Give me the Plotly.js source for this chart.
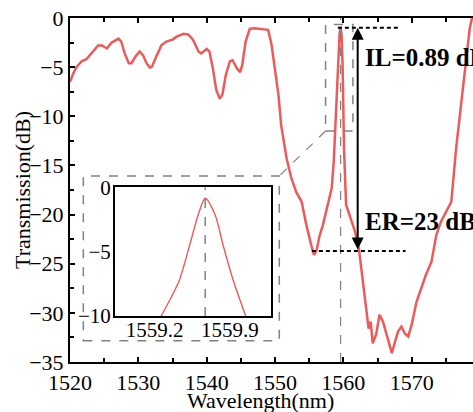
<!DOCTYPE html>
<html>
<head>
<meta charset="utf-8">
<script src="https://cdn.plot.ly/plotly-3.0.1.min.js"></script>
<style>html,body{margin:0;padding:0;overflow:hidden;background:#fff;}#chart{width:490px;height:412px;}</style>
</head>
<body>
<div id="chart"></div>
<script>
// Main spectrum
const wavelength = [1520.0,1520.5,1521.0,1521.7,1522.4,1523.2,1524.1,1524.7,1525.4,1526.1,1527.1,1527.5,1528.0,1528.6,1529.0,1529.6,1530.2,1530.7,1531.2,1531.7,1532.0,1532.7,1533.4,1534.1,1535.0,1535.6,1536.6,1537.3,1538.0,1538.8,1539.2,1540.0,1540.4,1540.9,1541.4,1541.9,1542.3,1542.8,1543.4,1543.8,1544.4,1544.9,1545.2,1545.7,1546.3,1547.0,1548.3,1549.0,1549.5,1550.1,1550.5,1550.9,1551.7,1552.4,1553.1,1553.9,1554.6,1555.3,1555.7,1556.1,1556.5,1557.0,1557.8,1558.3,1558.6,1559.0,1559.2,1559.45,1559.6,1559.75,1559.9,1560.1,1560.4,1560.9,1561.7,1562.3,1562.9,1563.4,1563.7,1564.0,1564.3,1564.8,1565.3,1565.8,1566.3,1566.8,1567.1,1567.5,1568.0,1568.5,1569.0,1569.5,1570.0,1570.7,1571.4,1572.1,1572.9,1573.6,1574.3,1575.1,1575.8,1576.5,1577.3,1578.0,1578.5,1579.0];
const transmission = [-6.5,-5.6,-4.95,-4.4,-4.2,-3.5,-2.8,-2.8,-3.1,-2.5,-2.1,-2.4,-3.6,-4.6,-4.6,-3.9,-3.4,-3.8,-4.6,-5.05,-4.95,-3.8,-2.75,-2.4,-2.2,-1.9,-1.6,-1.66,-2.2,-3.4,-3.6,-3.15,-3.4,-5.1,-7.3,-8.2,-7.8,-5.8,-4.4,-4.3,-5.1,-5.5,-4.8,-2.4,-1.1,-1.05,-1.1,-1.2,-2.75,-5.5,-7.8,-10.9,-14.3,-16.3,-17.7,-18.7,-21.1,-23.1,-24.1,-23.6,-22.2,-21.1,-18.7,-17.3,-14.6,-8.2,-4.6,-1.6,-0.89,-1.8,-5.0,-13.3,-19.0,-20.0,-21.7,-23.6,-26.8,-29.5,-31.6,-30.9,-33.1,-32.2,-30.2,-30.9,-32.2,-33.6,-34.1,-33.1,-31.9,-31.4,-32.1,-32.4,-31.2,-28.9,-27.5,-26.1,-24.8,-22.1,-20.7,-19.7,-18.7,-13.3,-8.2,-3.8,-1.05,0.5];
// Inset (zoom on the peak)
const insetWavelength = [1559.24,1559.35,1559.43,1559.53,1559.61,1559.67,1559.76,1559.84,1559.93,1560.06];
const insetTransmission = [-10.3,-8.6,-7.2,-4.35,-2.0,-0.85,-2.1,-4.6,-7.2,-10.3];
// Tick labels
const xTicks = [1520,1530,1540,1550,1560,1570];
const yTicks = [0,-5,-10,-15,-20,-25,-30,-35];
const insetXTicks = [1559.2,1559.9];
const insetYTicks = [0,-5,-10];
const peakWl = 1559.6;
const IL = 0.89, ER = 23;

const red = 'rgb(238,90,90)';
const serif = 'Liberation Serif, Times New Roman, serif';

const traces = [
  {x: wavelength, y: transmission, type: 'scatter', mode: 'lines', line: {color: red, width: 2.5}, xaxis: 'x', yaxis: 'y', hoverinfo: 'skip'},
  {x: insetWavelength, y: insetTransmission, type: 'scatter', mode: 'lines', line: {color: red, width: 1.4, shape: 'spline', smoothing: 0.8}, xaxis: 'x2', yaxis: 'y2', hoverinfo: 'skip'}
];

const gray = 'rgb(130,130,130)';
const tf = {family: serif, size: 22, color: '#000'};
const layout = {
  width: 490, height: 412,
  margin: {l: 70, r: 10, t: 18, b: 50},
  paper_bgcolor: '#fff', plot_bgcolor: '#fff',
  showlegend: false,
  font: {family: serif, size: 22, color: '#000'},
  xaxis: {
    range: [1520, 1580], tickvals: xTicks, ticks: 'inside', ticklen: 5, tickwidth: 2, tickcolor: '#000',
    showline: true, linewidth: 2, linecolor: '#000', mirror: 'ticks', showgrid: false, zeroline: false,
    minor: {dtick: 5, tick0: 1520, ticks: 'inside', ticklen: 4, tickwidth: 2, tickcolor: '#000'},
    tickfont: tf
  },
  yaxis: {
    range: [-35, 0], tickvals: yTicks, ticks: 'inside', ticklen: 5, tickwidth: 2, tickcolor: '#000',
    showline: true, linewidth: 2, linecolor: '#000', mirror: 'ticks', showgrid: false, zeroline: false,
    minor: {dtick: 2.5, tick0: 0, ticks: 'inside', ticklen: 4, tickwidth: 2, tickcolor: '#000'},
    tickfont: tf
  },
  xaxis2: {
    domain: [0.1098, 0.4895], anchor: 'y2', range: [1558.83, 1560.28], tickvals: insetXTicks, ticktext: ['1559.2','1559.9'],
    ticks: '', showline: true, linewidth: 2, linecolor: '#000', mirror: true, showgrid: false, zeroline: false,
    tickfont: {family: serif, size: 21, color: '#000'}, ticklabelstandoff: -6
  },
  yaxis2: {
    domain: [0.1337, 0.5078], anchor: 'x2', range: [-10, 0], tickvals: insetYTicks,
    ticks: '', showline: true, linewidth: 2, linecolor: '#000', mirror: true, showgrid: false, zeroline: false,
    tickfont: {family: serif, size: 21, color: '#000'}, ticklabelstandoff: -2
  },
  shapes: [
    {type: 'line', xref: 'x', yref: 'y', x0: peakWl, x1: peakWl, y0: -35, y1: 0, line: {color: gray, width: 1.2, dash: 'dash'}},
    {type: 'rect', xref: 'x', yref: 'y', x0: 1557.4, x1: 1561.4, y0: -11.5, y1: -0.65, line: {color: gray, width: 1.5, dash: 'dash'}},
    {type: 'line', xref: 'x', yref: 'y', x0: 1557.4, y0: -11.5, x1: 1550.63, y1: -16.07, line: {color: gray, width: 1.2, dash: 'dash'}},
    {type: 'rect', xref: 'x', yref: 'y', x0: 1521.95, x1: 1550.63, y0: -32.83, y1: -16.07, line: {color: gray, width: 1.5, dash: 'dash'}},
    {type: 'line', xref: 'x2', yref: 'y2', x0: 1559.67, x1: 1559.67, y0: -10, y1: 0, line: {color: gray, width: 1.5, dash: 'dash'}},
    {type: 'line', xref: 'x', yref: 'y', x0: 1559.2, x1: 1568.4, y0: -1.0, y1: -1.0, line: {color: '#000', width: 2, dash: '4px,3px'}},
    {type: 'line', xref: 'x', yref: 'y', x0: 1555.4, x1: 1569.1, y0: -23.7, y1: -23.7, line: {color: '#000', width: 2, dash: '4px,3px'}}
  ],
  annotations: [
    {xref: 'x', yref: 'y', x: 1562.1, y: -1.0, ax: 1562.1, ay: -23.7, axref: 'x', ayref: 'y', text: '', showarrow: true,
     arrowhead: 2, arrowside: 'end+start', arrowsize: 1.2, arrowwidth: 2, arrowcolor: '#000'},
    {xref: 'x', yref: 'y', x: 1562.9, y: -3.97, xanchor: 'left', yanchor: 'middle', showarrow: false,
     text: '<b>IL=' + IL.toFixed(2) + ' dB</b>', font: {family: serif, size: 25, color: '#000'}},
    {xref: 'x', yref: 'y', x: 1562.9, y: -20.75, xanchor: 'left', yanchor: 'middle', showarrow: false,
     text: '<b>ER=' + ER + ' dB</b>', font: {family: serif, size: 25, color: '#000'}},
    {xref: 'paper', yref: 'paper', x: (260 - 70) / 410, y: (362 - 400) / 344, xanchor: 'center', yanchor: 'middle', showarrow: false,
     text: 'Wavelength(nm)', font: {family: serif, size: 22, color: '#000'}},
    {xref: 'paper', yref: 'paper', x: (22 - 70) / 410, y: 0.5, xanchor: 'center', yanchor: 'middle', showarrow: false, textangle: -90,
     text: 'Transmission(dB)', font: {family: serif, size: 22, color: '#000'}}
  ]
};

Plotly.newPlot('chart', traces, layout, {displayModeBar: false, staticPlot: true});
</script>
</body>
</html>
